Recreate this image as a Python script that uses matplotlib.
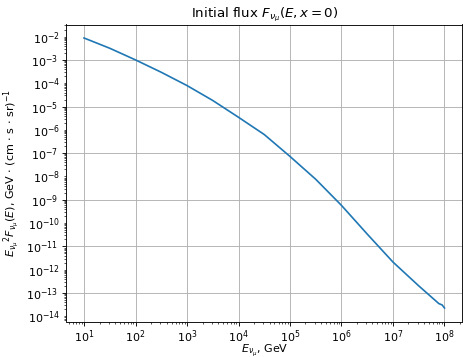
import matplotlib
matplotlib.use('Agg')
import matplotlib.pyplot as plt
import matplotlib.ticker as mticker
import numpy as np

# Data (log10 values)
log_E = [1.0, 1.5, 2.0, 2.5, 3.0, 3.5, 4.0, 4.5, 5.0, 5.5, 6.0, 6.5, 7.0, 7.5, 7.89, 7.955, 8.0]
log_flux = [-2.06, -2.50, -3.00, -3.53, -4.10, -4.74, -5.46, -6.20, -7.14, -8.12, -9.24,
            -10.47, -11.67, -12.69, -13.45, -13.51, -13.64]

E = 10.0 ** np.array(log_E)
flux = 10.0 ** np.array(log_flux)

W, H, DPI = 463, 357, 80
fig = plt.figure(figsize=(W / DPI, H / DPI), dpi=DPI)
ax = fig.add_axes([66 / W, 1 - 321.5 / H, 396.5 / W, 297 / H])
ax.plot(E, flux)
ax.set_xscale('log')
ax.set_yscale('log')

# y: major ticks (with grid) every other decade, labels on every decade
ax.yaxis.set_major_locator(mticker.FixedLocator([10.0 ** k for k in range(-13, -1, 2)]))
ax.yaxis.set_minor_locator(mticker.LogLocator(base=10, subs=np.arange(1, 10), numticks=100))
ax.yaxis.set_major_formatter(mticker.LogFormatterSciNotation())


def minor_fmt(v, pos):
    k = np.log10(v)
    if abs(k - round(k)) < 1e-6:
        return r'$\mathdefault{10^{%d}}$' % round(k)
    return ''


ax.yaxis.set_minor_formatter(mticker.FuncFormatter(minor_fmt))
ax.tick_params(axis='x', which='major', pad=2.5)

ax.grid(True)
ax.set_title(r'Initial flux $F_{\nu_\mu}(E, x = 0)$')
ax.set_xlabel(r'$E_{\nu_\mu}$, GeV', labelpad=-1.5)
ax.set_ylabel(r'$E_{\nu_\mu}{}^2 F_{\nu_\mu}(E)$, GeV $\cdot$ (cm $\cdot$ s $\cdot$ sr)$^{-1}$')

fig.savefig('out.png', dpi=DPI)
